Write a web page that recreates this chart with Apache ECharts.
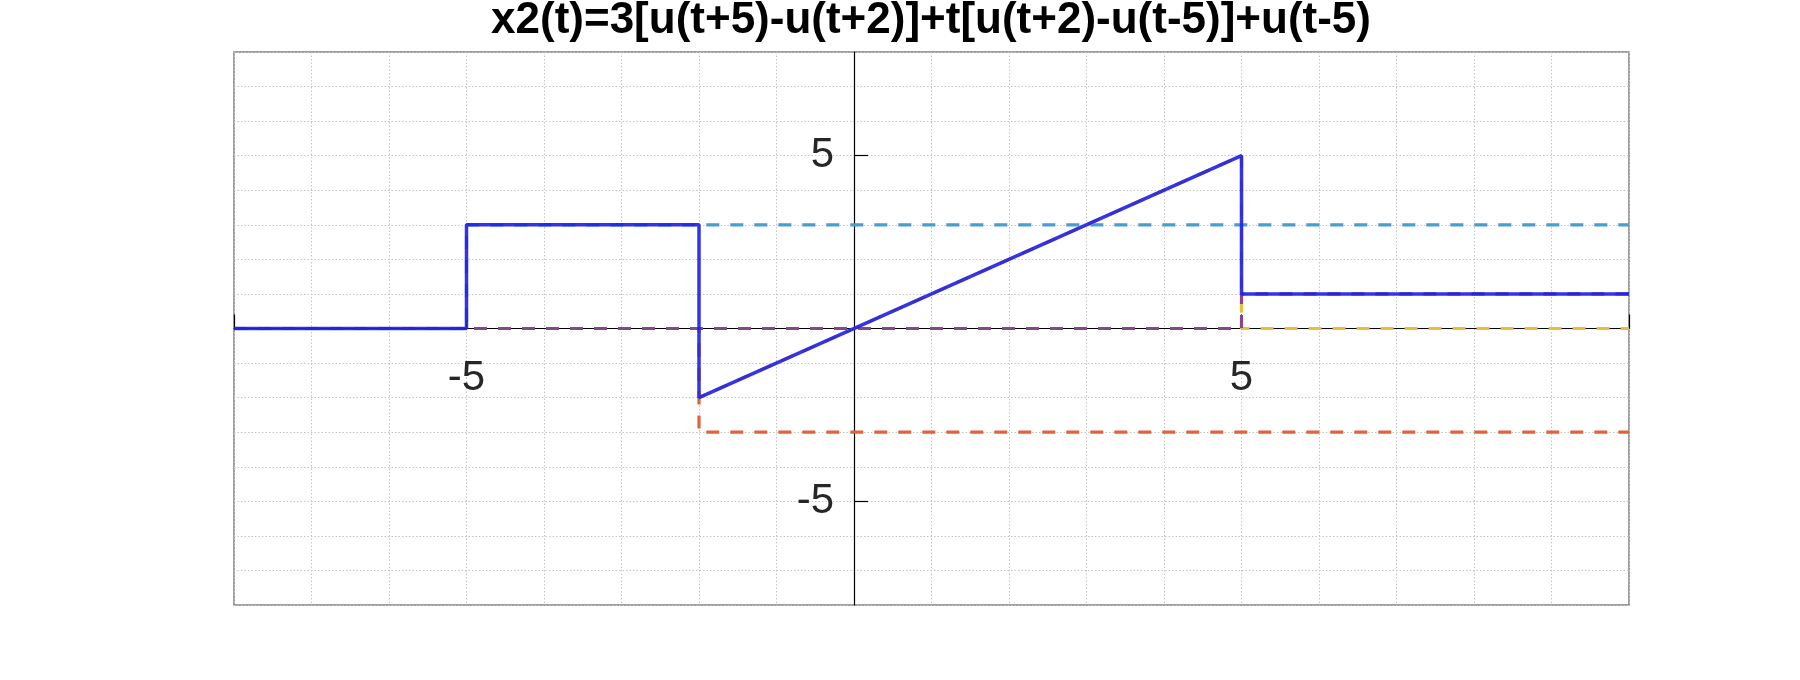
<!DOCTYPE html>
<html>
<head>
<meta charset="utf-8">
<script src="https://cdn.jsdelivr.net/npm/echarts@6/dist/echarts.min.js"></script>
<style>html,body{margin:0;padding:0;background:#fff}#c{width:1800px;height:680px}</style>
</head>
<body>
<div id="c"></div>
<script>
// ---- data ----
var titleText = 'x2(t)=3[u(t+5)-u(t+2)]+t[u(t+2)-u(t-5)]+u(t-5)';
var xTickLabels = [-5, 5];
var yTickLabels = [-5, 5];
// component 3u(t+5)
var comp1 = [[-8, 0], [-5, 0], [-5, 3], [10, 3]];
// component -3u(t+2)
var comp2 = [[-8, 0], [-2, 0], [-2, -3], [10, -3]];
// component t[u(t+2)-u(t-5)]
var comp3 = [[-8, 0], [-2, 0], [-2, -2], [5, 5], [5, 0], [10, 0]];
// component u(t-5)
var comp4 = [[-8, 0], [5, 0], [5, 1], [10, 1]];
// x2(t)
var x2 = [[-8, 0], [-5, 0], [-5, 3], [-2, 3], [-2, -2], [5, 5], [5, 1], [10, 1]];

var X_MIN = -8, X_MAX = 10, Y_MIN = -8, Y_MAX = 8;
var G_LEFT = 234, G_RIGHT = 171, G_TOP = 52, G_BOTTOM = 75;
var W = 1800, H = 680;
var gw = W - G_LEFT - G_RIGHT, gh = H - G_TOP - G_BOTTOM;
// offsets that bring the label axes onto the zero lines
var xZeroOffset = -gh * (0 - Y_MIN) / (Y_MAX - Y_MIN);
var yZeroOffset = -gw * (0 - X_MIN) / (X_MAX - X_MIN);

var chart = echarts.init(document.getElementById('c'));
function dashed(name, data, color) {
  return {
    name: name, type: 'line', data: data, showSymbol: false, symbol: 'none', silent: true,
    lineStyle: { color: color, width: 3.2, type: [13, 11] }
  };
}
var labelFont = { fontFamily: 'Liberation Sans, Arial, sans-serif', fontSize: 42, color: '#262626' };
var gridLine = { show: true, lineStyle: { color: '#c4c4c4', width: 1, type: [1.5, 2] } };
chart.setOption({
  animation: false,
  backgroundColor: '#ffffff',
  graphic: [{
    type: 'text', x: 931, y: 21,
    style: { text: titleText, fontFamily: 'Liberation Sans, Arial, sans-serif', fontWeight: 'bold',
             fontSize: 44, fill: '#000', align: 'center', verticalAlign: 'middle' }
  }],
  grid: { left: G_LEFT, right: G_RIGHT, top: G_TOP, bottom: G_BOTTOM, show: true, borderColor: '#808080', borderWidth: 1.5, backgroundColor: '#fff' },
  xAxis: [{
    type: 'value', min: X_MIN, max: X_MAX, interval: 1,
    axisLine: { onZero: true, lineStyle: { color: '#000', width: 1.2 } },
    axisTick: { show: false }, axisLabel: { show: false },
    splitLine: gridLine
  }, {
    type: 'value', min: X_MIN, max: X_MAX, interval: 1, position: 'bottom', offset: xZeroOffset,
    axisLine: { show: false, onZero: false },
    axisTick: { show: true, inside: true, length: 14, customValues: [-8, -5, 5, 10], lineStyle: { color: '#000', width: 1.2 } },
    axisLabel: Object.assign({ customValues: xTickLabels, margin: 29, formatter: function (v) { return String(v); } }, labelFont),
    splitLine: { show: false }
  }],
  yAxis: [{
    type: 'value', min: Y_MIN, max: Y_MAX, interval: 1,
    axisLine: { onZero: true, lineStyle: { color: '#000', width: 1.2 } },
    axisTick: { show: false }, axisLabel: { show: false },
    splitLine: gridLine
  }, {
    type: 'value', min: Y_MIN, max: Y_MAX, interval: 1, position: 'left', offset: yZeroOffset,
    axisLine: { show: false, onZero: false },
    axisTick: { show: true, inside: true, length: 14, customValues: yTickLabels, lineStyle: { color: '#000', width: 1.2 } },
    axisLabel: Object.assign({ customValues: yTickLabels, margin: 20, formatter: function (v) { return String(v); } }, labelFont),
    splitLine: { show: false }
  }],
  series: [
    dashed('3u(t+5)', comp1, '#4a9dd0'),
    dashed('-3u(t+2)', comp2, '#e0643a'),
    dashed('t[u(t+2)-u(t-5)]', comp3, '#ebbd3c'),
    dashed('u(t-5)', comp4, '#84478f'),
    {
      name: 'x2(t)', type: 'line', data: x2, showSymbol: false, symbol: 'none', silent: true,
      lineStyle: { color: '#1f1fe6', width: 3.5, opacity: 0.9 }
    }
  ]
});
</script>
</body>
</html>
